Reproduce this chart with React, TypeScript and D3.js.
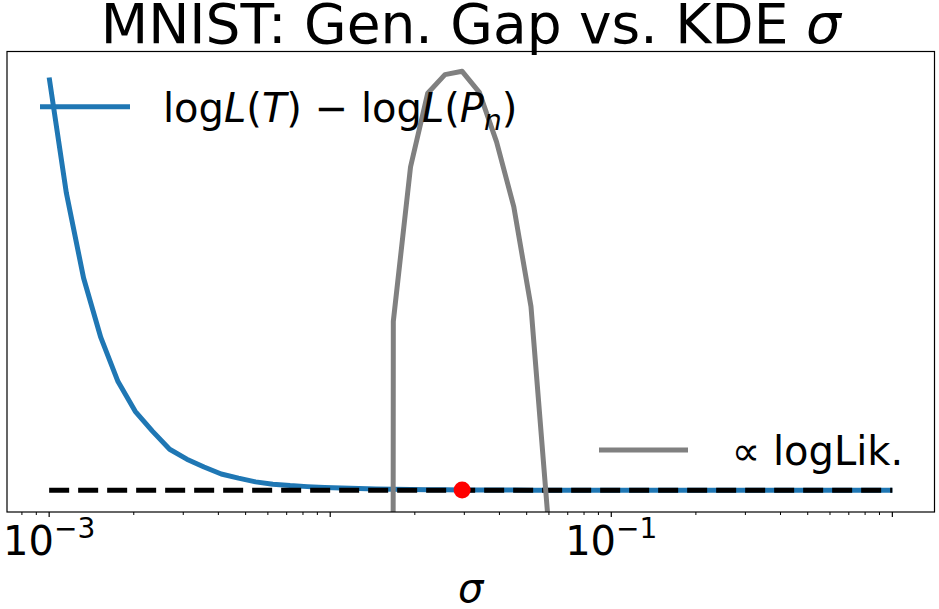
import * as d3 from "d3";

// KDE bandwidth grid (log-spaced, 1e-3 .. 1)
const sigmas = [
  0.001, 0.0011514, 0.0013257, 0.0015264, 0.0017575, 0.0020236, 0.00233, 0.0026827,
  0.0030888, 0.0035565, 0.0040949, 0.0047149, 0.0054287, 0.0062506, 0.0071969, 0.0082864,
  0.009541, 0.010985, 0.012649, 0.014563, 0.016768, 0.019307, 0.02223, 0.025595,
  0.029471, 0.033932, 0.039069, 0.044984, 0.051795, 0.059636, 0.068665, 0.07906,
  0.09103, 0.10481, 0.12068, 0.13895, 0.15999, 0.18421, 0.2121, 0.24421,
  0.28118, 0.32375, 0.37276, 0.42919, 0.49417, 0.56899, 0.65513, 0.75431,
  0.86851, 1.0,
];

// log L(T) - log L(P_n), normalised
const genGap = [
  1.0, 0.72, 0.514, 0.37, 0.263, 0.191, 0.143, 0.099, 0.075, 0.056,
  0.039, 0.029, 0.02, 0.0145, 0.011, 0.0085, 0.0065, 0.005, 0.004, 0.003,
  0.0022, 0.0016, 0.0012, 0.0008, 0.0005, 0.0003, 0.0002, 0.0001, 0, 0,
  0, 0, 0, 0, 0, 0, 0, 0, 0, 0,
  0, 0, 0, 0, 0, 0, 0, 0, 0, 0,
];

// scaled log-likelihood, only where it is finite-ish
const logLikSigmas = [
  0.014563, 0.016768, 0.019307, 0.02223, 0.025595, 0.029471, 0.033932, 0.039069,
  0.044984, 0.051795, 0.059636, 0.068665,
];
const logLik = [-50, 0.409, 0.783, 0.962, 1.007, 1.015, 0.964, 0.844, 0.687, 0.445, -0.075, -5];

const baselineGap = 0;

const xMajorTicks = [1e-3, 1e-2, 1e-1, 1];
const xTickLabels = [
  { value: 1e-3, base: "10", exp: "\u22123" },
  { value: 1e-1, base: "10", exp: "\u22121" },
];

const W = 939;
const H = 609;
const FONT = "'DejaVu Sans', sans-serif";

export default function App() {
  const left = 7;
  const right = 934.5;
  const top = 51.5;
  const bottom = 512;

  const x = d3
    .scaleLog()
    .domain([Math.pow(10, -3.15), Math.pow(10, 0.15)])
    .range([left, right]);
  const y = d3.scaleLinear().domain([-0.053, 1.063]).range([bottom, top]);

  const gapLine = d3
    .line<number>()
    .x((_, i) => x(sigmas[i]))
    .y((d) => y(d));
  const likLine = d3
    .line<number>()
    .x((_, i) => x(logLikSigmas[i]))
    .y((d) => y(d));

  const best = d3.maxIndex(logLik);
  const bestSigma = logLikSigmas[best];
  const bestGap = genGap[sigmas.indexOf(bestSigma)];

  // minor ticks 2..9 x 10^k
  const minorTicks: number[] = [];
  [-4, -3, -2, -1, 0].forEach((k) => {
    for (let m = 2; m <= 9; m++) {
      const v = m * Math.pow(10, k);
      if (x(v) >= left && x(v) <= right) minorTicks.push(v);
    }
  });

  const xMin = sigmas[0];
  const xMax = sigmas[sigmas.length - 1];

  return (
    <div style={{ position: "fixed", left: 0, top: 0, background: "#fff" }}>
      <svg width={W} height={H} style={{ display: "block" }} fontFamily={FONT}>
        <rect width={W} height={H} fill="#fff" />
        <defs>
          <clipPath id="plot">
            <rect x={left} y={top} width={right - left} height={bottom - top} />
          </clipPath>
        </defs>

        {/* title */}
        <text x={(left + right) / 2} y={42.5} fontSize={55} textAnchor="middle" fill="#000">
          MNIST: Gen. Gap vs. KDE <tspan fontStyle="italic">σ</tspan>
        </text>

        <g clipPath="url(#plot)">
          <path
            d={gapLine(genGap) ?? ""}
            fill="none"
            stroke="#1f77b4"
            strokeWidth={5}
            strokeLinejoin="round"
          />
          <line
            x1={x(xMin)}
            x2={x(xMax)}
            y1={y(baselineGap)}
            y2={y(baselineGap)}
            stroke="#000"
            strokeWidth={5}
            strokeDasharray="20,9"
          />
          <path
            d={likLine(logLik) ?? ""}
            fill="none"
            stroke="#808080"
            strokeWidth={5}
            strokeLinejoin="round"
          />
          <circle cx={x(bestSigma)} cy={y(bestGap)} r={8.5} fill="#ff0000" />
        </g>

        {/* frame */}
        <rect
          x={left}
          y={top}
          width={right - left}
          height={bottom - top}
          fill="none"
          stroke="#000"
          strokeWidth={1.2}
        />

        {/* ticks */}
        {xMajorTicks.map((t) => (
          <line key={`M${t}`} x1={x(t)} x2={x(t)} y1={bottom} y2={bottom + 5} stroke="#000" strokeWidth={1.2} />
        ))}
        {minorTicks.map((t) => (
          <line key={`m${t}`} x1={x(t)} x2={x(t)} y1={bottom} y2={bottom + 3} stroke="#000" strokeWidth={1} />
        ))}
        {xTickLabels.map((t) => (
          <text key={t.value} x={x(t.value)} y={554.5} fontSize={40} textAnchor="middle" fill="#000">
            {t.base}
            <tspan fontSize={28} dy={-17}>
              {t.exp}
            </tspan>
          </text>
        ))}

        {/* x label */}
        <text x={(left + right) / 2} y={602} fontSize={40} fontStyle="italic" textAnchor="middle" fill="#000">
          σ
        </text>

        {/* legend: upper left */}
        <line x1={40} x2={130} y1={106.7} y2={106.7} stroke="#1f77b4" strokeWidth={5} />
        <text x={163} y={121.7} fontSize={40} fill="#000">
          log<tspan fontStyle="italic">L</tspan>(<tspan fontStyle="italic">T</tspan>)
          {" \u2212 "}log<tspan fontStyle="italic">L</tspan>(<tspan fontStyle="italic">P</tspan>
          <tspan fontStyle="italic" fontSize={28} dy={8}>
            n
          </tspan>
          <tspan dy={-8}>)</tspan>
        </text>

        {/* legend: lower right */}
        <line x1={599} x2={688} y1={450} y2={450} stroke="#808080" strokeWidth={5} />
        <text x={731.7} y={465} fontSize={40} fill="#000">
          {"\u221D logLik."}
        </text>
      </svg>
    </div>
  );
}
